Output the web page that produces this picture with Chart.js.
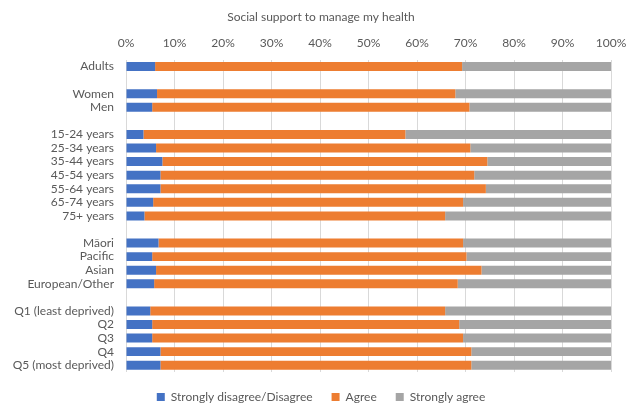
<!DOCTYPE html>
<html><head><meta charset="utf-8">
<script src="https://cdn.jsdelivr.net/npm/chart.js@4"></script>
<style>html,body{margin:0;padding:0;background:#fff;}canvas{display:block;}</style>
</head><body>
<canvas id="c" width="642" height="419"></canvas>
<script>
const categories = ['Adults','','Women','Men','','15-24 years','25-34 years','35-44 years','45-54 years','55-64 years','65-74 years','75+ years','','Māori','Pacific','Asian','European/Other','','Q1 (least deprived)','Q2','Q3','Q4','Q5 (most deprived)'];
const disagree = [6.0,null,6.4,5.4,null,3.6,6.2,7.5,7.1,7.1,5.6,3.8,null,6.7,5.4,6.2,5.8,null,5.0,5.4,5.4,7.1,7.1];
const agree = [63.3,null,61.5,65.4,null,54.0,64.8,67.0,64.7,67.1,63.9,62.0,null,62.8,64.8,67.1,62.6,null,60.8,63.3,64.1,64.1,64.1];
const stronglyAgree = [30.7,null,32.1,29.2,null,42.4,29.0,25.5,28.2,25.8,30.5,34.2,null,30.5,29.8,26.7,31.6,null,34.2,31.3,30.5,28.8,28.8];
const xTicks = [0,10,20,30,40,50,60,70,80,90,100];
const seriesNames = ['Strongly disagree/Disagree','Agree','Strongly agree'];
const font = {family:'Lato, "Open Sans", sans-serif', size:12, weight:'normal'};
const txt = '#595959';
new Chart(document.getElementById('c'), {
  type:'bar',
  data:{labels:categories, datasets:[
    {label:seriesNames[0], data:disagree, backgroundColor:'#4472C4'},
    {label:seriesNames[1], data:agree, backgroundColor:'#ED7D31'},
    {label:seriesNames[2], data:stronglyAgree, backgroundColor:'#A5A5A5'}
  ]},
  options:{
    responsive:false, animation:false, devicePixelRatio:1,
    indexAxis:'y',
    datasets:{bar:{categoryPercentage:1, barPercentage:0.66}},
    layout:{padding:{left:0,right:0,top:10,bottom:6}},
    plugins:{
      title:{display:true, text:'Social support to manage my health', color:txt, font:font, padding:{top:0,bottom:3}},
      legend:{position:'bottom', labels:{color:txt, font:font, boxWidth:8, boxHeight:8, padding:19}},
      tooltip:{enabled:false}
    },
    scales:{
      x:{position:'top', stacked:true, min:0, max:100,
        afterBuildTicks:s=>{s.ticks=xTicks.map(v=>({value:v}));},
        ticks:{color:txt, font:font, callback:v=>v+'%', padding:9},
        grid:{color:'#D9D9D9', drawTicks:false}, border:{display:false}},
      y:{stacked:true,
        afterFit:s=>{s.width=126;},
        ticks:{color:txt, font:font, padding:12, autoSkip:false},
        grid:{display:false, drawTicks:false}, border:{display:false}},
      yRight:{position:'right', display:true,
        afterFit:s=>{s.width=31;},
        ticks:{display:false}, grid:{display:false, drawTicks:false}, border:{display:false}}
    }
  }
});
</script>
</body></html>
